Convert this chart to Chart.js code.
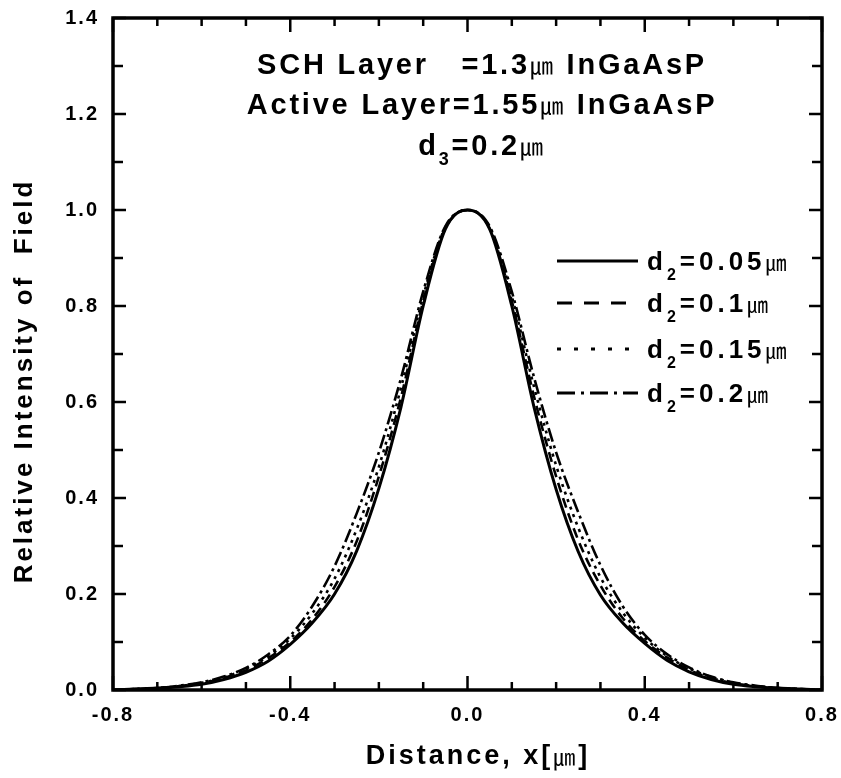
<!DOCTYPE html>
<html>
<head>
<meta charset="utf-8">
<script src="https://cdn.jsdelivr.net/npm/chart.js@4.4.0/dist/chart.umd.min.js"></script>
<style>
  html, body { margin: 0; padding: 0; background: #fff; }
  #wrap { width: 841px; height: 778px; position: relative; }
</style>
</head>
<body>
<div id="wrap"><canvas id="fieldChart"></canvas></div>
<script>
// distance x (um), same grid for all curves
const xPos = [-0.80, -0.75, -0.70, -0.65, -0.60, -0.55, -0.50, -0.45, -0.40, -0.35, -0.30, -0.25, -0.20, -0.15, -0.10, -0.05,
  0.00, 0.05, 0.10, 0.15, 0.20, 0.25, 0.30, 0.35, 0.40, 0.45, 0.50, 0.55, 0.60, 0.65, 0.70, 0.75, 0.80];

// relative intensity
const d2_005 = [0.000, 0.002, 0.004, 0.007, 0.012, 0.022, 0.037, 0.060, 0.095, 0.140, 0.200, 0.290, 0.420, 0.590, 0.800, 0.960,
  1.000, 0.960, 0.800, 0.590, 0.418, 0.288, 0.198, 0.140, 0.097, 0.062, 0.038, 0.022, 0.012, 0.007, 0.004, 0.002, 0.000];
const d2_01 = [0.000, 0.002, 0.004, 0.008, 0.014, 0.025, 0.041, 0.066, 0.100, 0.148, 0.215, 0.310, 0.445, 0.610, 0.810, 0.962,
  1.000, 0.962, 0.810, 0.612, 0.445, 0.312, 0.218, 0.150, 0.102, 0.068, 0.042, 0.025, 0.014, 0.008, 0.004, 0.002, 0.000];
const d2_015 = [0.000, 0.002, 0.004, 0.008, 0.015, 0.026, 0.044, 0.070, 0.107, 0.160, 0.232, 0.335, 0.465, 0.630, 0.820, 0.964,
  1.000, 0.964, 0.820, 0.632, 0.468, 0.338, 0.235, 0.162, 0.109, 0.071, 0.045, 0.027, 0.015, 0.008, 0.004, 0.002, 0.000];
const d2_02 = [0.000, 0.002, 0.004, 0.009, 0.016, 0.028, 0.046, 0.074, 0.113, 0.175, 0.258, 0.368, 0.495, 0.650, 0.830, 0.966,
  1.000, 0.966, 0.830, 0.652, 0.495, 0.370, 0.260, 0.175, 0.115, 0.075, 0.047, 0.028, 0.016, 0.009, 0.004, 0.002, 0.000];

const seriesLabels = ['0.05', '0.1', '0.15', '0.2'];
const seriesDash = [[], [10, 6], [3, 5], [14, 4, 3, 4]];
const legendDash = [[], [15, 12], [4, 13], [18, 6, 3, 6]];
const xTicks = [-0.8, -0.4, 0.0, 0.4, 0.8];
const yTicks = [0.0, 0.2, 0.4, 0.6, 0.8, 1.0, 1.2, 1.4];

const FONT = '"Liberation Sans", Arial, "Noto Sans CJK SC", sans-serif';
const UM = '\u339B';

function toPoints(arr) {
  return xPos.map((x, i) => ({ x: x, y: arr[i] }));
}

// draws text pieces left to right; subscripts and the um sign get their own font
function drawPieces(c, pieces, x, y, size, spacing) {
  let cx = x;
  pieces.forEach(p => {
    let dy = 0;
    if (p.sub) {
      c.font = 'bold ' + Math.round(size * 0.62) + 'px ' + FONT;
      dy = 10;
    } else if (p.um) {
      c.font = Math.round(size * 0.8) + 'px "Noto Sans CJK JP", sans-serif';
    } else {
      c.font = 'bold ' + size + 'px ' + FONT;
    }
    c.letterSpacing = spacing + 'px';
    c.fillText(p.t, cx, y + dy);
    cx += c.measureText(p.t).width;
  });
  return cx - x;
}

function piecesWidth(c, pieces, size, spacing) {
  c.save();
  c.globalAlpha = 0;
  const w = drawPieces(c, pieces, 0, 0, size, spacing);
  c.restore();
  return w;
}

// frame, inner ticks, titles, annotation text and legend
const decorPlugin = {
  id: 'decor',
  beforeDraw(chart) {
    chart.ctx.letterSpacing = '2px';
  },
  afterDraw(chart) {
    const c = chart.ctx;
    const a = chart.chartArea;
    const xs = chart.scales.x;
    const ys = chart.scales.y;
    c.save();
    c.strokeStyle = '#000';
    c.fillStyle = '#000';

    // ticks on all four sides
    c.lineWidth = 2.5;
    for (let i = -8; i <= 8; i++) {
      const px = xs.getPixelForValue(i / 10);
      const len = (i % 4 === 0) ? 14 : 8;
      c.beginPath();
      c.moveTo(px, a.bottom); c.lineTo(px, a.bottom - len);
      c.moveTo(px, a.top); c.lineTo(px, a.top + len);
      c.stroke();
    }
    for (let i = 0; i <= 14; i++) {
      const py = ys.getPixelForValue(i / 10);
      const len = (i % 2 === 0) ? 13 : 10;
      c.beginPath();
      c.moveTo(a.left, py); c.lineTo(a.left + len, py);
      c.moveTo(a.right, py); c.lineTo(a.right - len, py);
      c.stroke();
    }

    // frame
    c.lineWidth = 3.5;
    c.strokeRect(a.left, a.top, a.right - a.left, a.bottom - a.top);

    // axis titles
    c.textBaseline = 'middle';
    c.textAlign = 'left';
    const xt = [{ t: 'Distance, x[' }, { t: UM, um: true }, { t: ']' }];
    const xw = piecesWidth(c, xt, 27, 3);
    drawPieces(c, xt, 478 - xw / 2, 757, 27, 3);
    c.save();
    c.translate(25, 381);
    c.rotate(-Math.PI / 2);
    c.textAlign = 'center';
    c.font = 'bold 26px ' + FONT;
    c.letterSpacing = '3px';
    c.fillText('Relative Intensity of  Field', 0, 0);
    c.restore();

    // annotation block
    c.textBaseline = 'alphabetic';
    c.textAlign = 'left';
    const line1 = [{ t: 'SCH Layer   =1.3' }, { t: UM, um: true }, { t: ' InGaAsP' }];
    const line2 = [{ t: 'Active Layer=1.55' }, { t: UM, um: true }, { t: ' InGaAsP' }];
    const line3 = [{ t: 'd' }, { t: '3', sub: true }, { t: '=0.2' }, { t: UM, um: true }];
    [[line1, 74], [line2, 114], [line3, 155]].forEach(([p, y]) => {
      const w = piecesWidth(c, p, 29, 2.8);
      drawPieces(c, p, 482 - w / 2, y, 29, 2.8);
    });

    // legend
    const rowY = [261, 303, 349, 393];
    chart.data.datasets.forEach((ds, i) => {
      const y = rowY[i];
      c.lineWidth = 3;
      c.setLineDash(legendDash[i]);
      c.beginPath();
      c.moveTo(557, y); c.lineTo(638, y);
      c.stroke();
      c.setLineDash([]);
      drawPieces(c, [{ t: 'd' }, { t: '2', sub: true }, { t: '=' + seriesLabels[i] }, { t: UM, um: true }], 647, y + 9, 26, 4);
    });
    c.restore();
  }
};

const seriesData = [d2_005, d2_01, d2_015, d2_02];

new Chart(document.getElementById('fieldChart'), {
  type: 'line',
  data: {
    datasets: seriesData.map((arr, i) => ({
      label: 'd2=' + seriesLabels[i],
      data: toPoints(arr),
      borderColor: '#000',
      borderWidth: i === 0 ? 3 : 2.6,
      borderDash: seriesDash[i],
      pointRadius: 0,
      fill: false,
      cubicInterpolationMode: 'monotone'
    }))
  },
  options: {
    responsive: true,
    maintainAspectRatio: false,
    animation: false,
    layout: { padding: { top: 18, right: 19, left: 0, bottom: 0 } },
    plugins: {
      legend: { display: false },
      tooltip: { enabled: false }
    },
    scales: {
      x: {
        type: 'linear',
        min: -0.8,
        max: 0.8,
        afterBuildTicks: s => { s.ticks = xTicks.map(v => ({ value: v })); },
        afterFit: s => { s.height = 88; s.paddingLeft = 0; s.paddingRight = 0; },
        grid: { display: false, drawTicks: false },
        border: { display: false },
        ticks: {
          padding: 13,
          color: '#000',
          maxRotation: 0,
          font: { family: FONT, size: 20, weight: 'bold' },
          callback: v => v.toFixed(1)
        }
      },
      y: {
        min: 0,
        max: 1.4,
        afterBuildTicks: s => { s.ticks = yTicks.map(v => ({ value: v })); },
        afterFit: s => { s.width = 113; s.paddingTop = 0; s.paddingBottom = 0; },
        grid: { display: false, drawTicks: false },
        border: { display: false },
        ticks: {
          padding: 14,
          color: '#000',
          font: { family: FONT, size: 20, weight: 'bold' },
          callback: v => v.toFixed(1)
        }
      }
    }
  },
  plugins: [decorPlugin]
});
</script>
</body>
</html>
